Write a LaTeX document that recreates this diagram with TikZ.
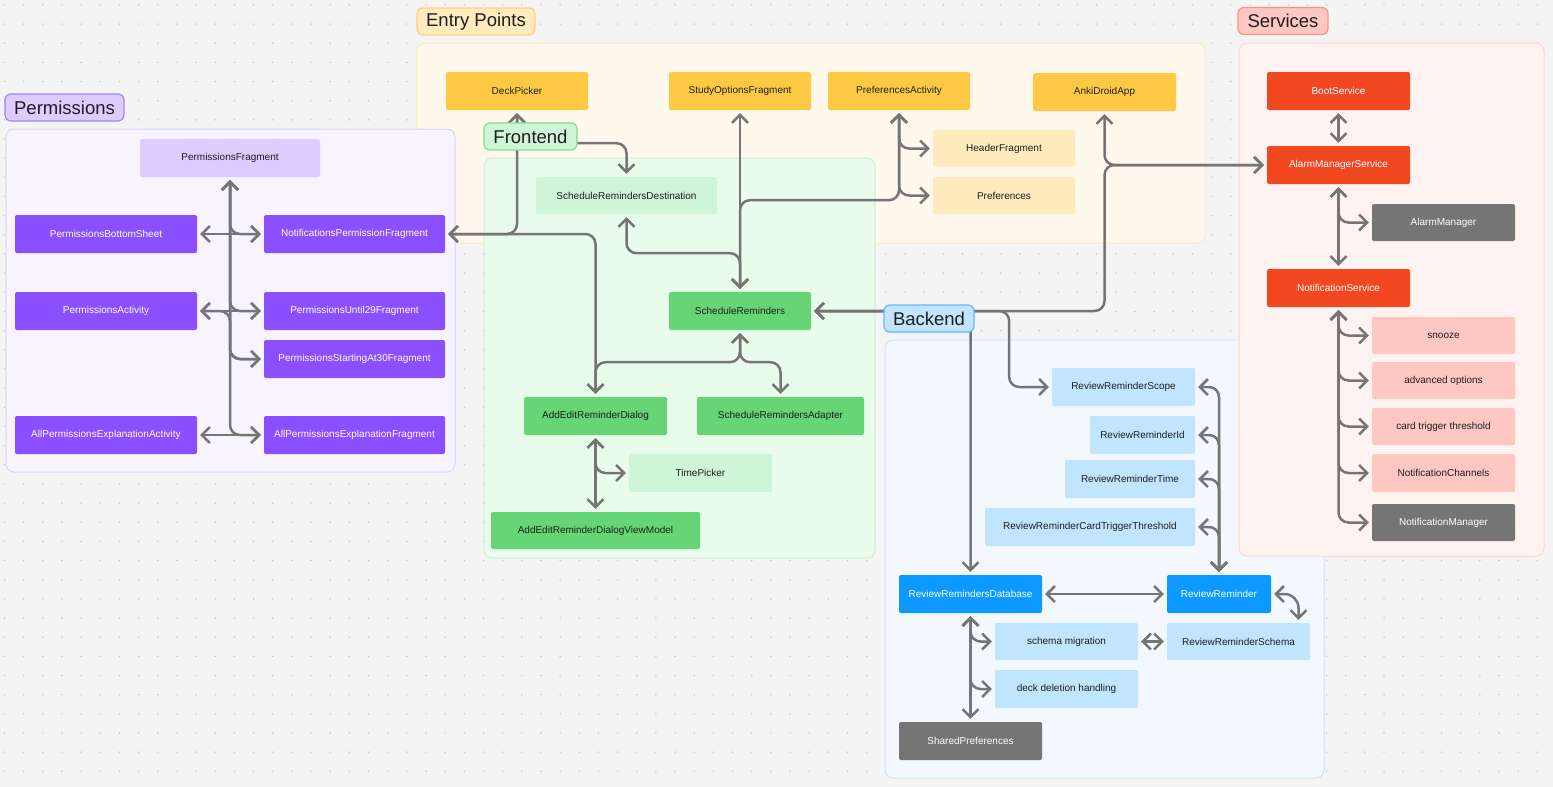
\documentclass[tikz,border=0pt]{standalone}
\usepackage{fontspec}
\setmainfont{Liberation Sans}
\usetikzlibrary{arrows.meta}
\definecolor{bg}{HTML}{F4F4F4}
\definecolor{dotc}{HTML}{C6C6C6}
\definecolor{linkc}{HTML}{757575}
\definecolor{ink}{HTML}{1E1E1E}
\definecolor{purpleA}{HTML}{8A4FFF}\definecolor{purpleB}{HTML}{DCCCFF}
\definecolor{purpleF}{HTML}{F7F4FF}\definecolor{purpleE}{HTML}{DDD0FF}\definecolor{purpleL}{HTML}{A283FF}
\definecolor{yellowA}{HTML}{FFC943}\definecolor{yellowB}{HTML}{FFEBBD}
\definecolor{yellowF}{HTML}{FFF9ED}\definecolor{yellowE}{HTML}{FFEAB5}\definecolor{yellowL}{HTML}{FFD27A}
\definecolor{greenA}{HTML}{66D575}\definecolor{greenB}{HTML}{CFF5D8}
\definecolor{greenF}{HTML}{E9FCEC}\definecolor{greenE}{HTML}{CBF0D2}\definecolor{greenL}{HTML}{82DB93}
\definecolor{blueA}{HTML}{0D99FF}\definecolor{blueB}{HTML}{C2E5FF}
\definecolor{blueF}{HTML}{F3F8FF}\definecolor{blueE}{HTML}{C8E4FF}\definecolor{blueL}{HTML}{62B7FF}
\definecolor{redA}{HTML}{F24822}\definecolor{redB}{HTML}{FFC7C2}
\definecolor{redF}{HTML}{FFF3F1}\definecolor{redE}{HTML}{FFD4D0}\definecolor{redL}{HTML}{FF8F85}
\definecolor{grayA}{HTML}{757575}
\tikzset{
  box/.style={rounded corners=2pt,minimum height=38pt,minimum width=142pt,inner sep=0pt,
    font=\fontsize{10}{12}\selectfont,text=ink},
  dark/.style={box,fill=#1,text=white},
  light/.style={box,fill=#1},
  tag/.style={rounded corners=6pt,line width=1.2pt,minimum height=27pt,inner sep=4pt,
    font=\fontsize{18.5}{20}\selectfont,text=ink},
  frame/.style={rounded corners=8pt,line width=1pt},
  link/.style={draw=linkc,line width=2.5pt,rounded corners=10pt,<->,shorten <=3pt,shorten >=3pt},
  >={Straight Barb[length=8pt,width=16pt]}
}
\begin{document}
\begin{tikzpicture}[x=1pt,y=-1pt]
\useasboundingbox(0,0)rectangle(1553,787);
\fill[bg](0,0)rectangle(1553,787);
\foreach \i in {0,...,81}\foreach \j in {0,...,41}
  \fill[dotc](4.5+19.16*\i,4.9+19.16*\j)circle(.8pt);
% groups
\draw[frame,fill=yellowF,draw=yellowE](417,43)rectangle(1205,243);
\draw[frame,fill=greenF,draw=greenE](484,158)rectangle(875,558);
\draw[frame,fill=purpleF,draw=purpleE](6,129)rectangle(455,472);
\draw[frame,fill=blueF,draw=blueE](885,340)rectangle(1324,778);
\draw[frame,fill=redF,draw=redE](1239,43)rectangle(1544,556);
% permissions
\node[light=purpleB,minimum width=180pt](pfrag)at(230,158){PermissionsFragment};
\node[dark=purpleA,minimum width=182pt](pbottom)at(106,234){PermissionsBottomSheet};
\node[dark=purpleA,minimum width=181pt](notifperm)at(354.5,234){NotificationsPermissionFragment};
\node[dark=purpleA,minimum width=182pt](pact)at(106,311){PermissionsActivity};
\node[dark=purpleA,minimum width=181pt](puntil)at(354.5,311){PermissionsUntil29Fragment};
\node[dark=purpleA,minimum width=181pt](pstart)at(354.5,359){PermissionsStartingAt30Fragment};
\node[dark=purpleA,minimum width=182pt](allact)at(106,435){AllPermissionsExplanationActivity};
\node[dark=purpleA,minimum width=181pt](allfrag)at(354.5,435){AllPermissionsExplanationFragment};
% entry points
\node[light=yellowA](deck)at(517,91){DeckPicker};
\node[light=yellowA](study)at(740,91){StudyOptionsFragment};
\node[light=yellowA](prefact)at(899,91){PreferencesActivity};
\node[light=yellowA,minimum width=143pt](anki)at(1104.5,92){AnkiDroidApp};
\node[light=yellowB,minimum height=37pt](header)at(1004,148.5){HeaderFragment};
\node[light=yellowB,minimum height=37pt](prefs)at(1004,195.5){Preferences};
% frontend
\node[light=greenB,minimum width=181pt,minimum height=37pt](srdest)at(626.5,195.5){ScheduleRemindersDestination};
\node[light=greenA](sr)at(740,311){ScheduleReminders};
\node[light=greenA,minimum width=143pt](aerd)at(595.5,416){AddEditReminderDialog};
\node[light=greenA,minimum width=167pt](sradapt)at(780.5,416){ScheduleRemindersAdapter};
\node[light=greenB,minimum width=143pt](timep)at(700.5,473){TimePicker};
\node[light=greenA,minimum width=209pt,minimum height=37pt](aerdvm)at(595.5,530.5){AddEditReminderDialogViewModel};
% services
\node[dark=redA,minimum width=143pt](boot)at(1338.5,91){BootService};
\node[dark=redA,minimum width=143pt](ams)at(1338.5,165){AlarmManagerService};
\node[dark=grayA,minimum width=143pt,minimum height=37pt](am)at(1443.5,222.5){AlarmManager};
\node[dark=redA,minimum width=143pt](ns)at(1338.5,288){NotificationService};
\node[light=redB,minimum width=143pt,minimum height=37pt](snooze)at(1443.5,335.5){snooze};
\node[light=redB,minimum width=143pt,minimum height=37pt](adv)at(1443.5,380.5){advanced options};
\node[light=redB,minimum width=143pt,minimum height=37pt](ctt)at(1443.5,426.5){card trigger threshold};
\node[light=redB,minimum width=143pt](nch)at(1443.5,473){NotificationChannels};
\node[dark=grayA,minimum width=143pt,minimum height=37pt](nmgr)at(1443.5,522.5){NotificationManager};
% backend
\node[light=blueB,minimum width=143pt](rrscope)at(1123.5,387){ReviewReminderScope};
\node[light=blueB,minimum width=105pt](rrid)at(1142.5,435){ReviewReminderId};
\node[light=blueB,minimum width=130pt](rrtime)at(1130,479){ReviewReminderTime};
\node[light=blueB,minimum width=210pt](rrctt)at(1090,527){ReviewReminderCardTriggerThreshold};
\node[dark=blueA,minimum width=143pt](rrdb)at(970.5,594){ReviewRemindersDatabase};
\node[dark=blueA,minimum width=104pt](rr)at(1219,594){ReviewReminder};
\node[light=blueB,minimum width=143pt,minimum height=37pt](schmig)at(1066.5,641.5){schema migration};
\node[light=blueB,minimum width=143pt,minimum height=37pt](rrschema)at(1238.5,641.5){ReviewReminderSchema};
\node[light=blueB,minimum width=143pt](deckdel)at(1066.5,689){deck deletion handling};
\node[dark=grayA,minimum width=143pt](sharedp)at(970.5,741){SharedPreferences};
% links
\draw[link](pfrag.south)|-(notifperm.west);
\draw[link](pfrag.south)|-(puntil.west);
\draw[link](pfrag.south)|-(pstart.west);
\draw[link](pfrag.south)|-(allfrag.west);
\draw[link](pbottom.east)--(notifperm.west);
\draw[link](pact.east)--(puntil.west);
\draw[link](pact.east)--(pact.east-|pfrag.south)|-(pstart.west);
\draw[link](allact.east)--(allfrag.west);
\draw[link](deck.south)|-(notifperm.east);
\draw[link](deck.south)--++(0,33)-|(srdest.north);
\draw[link](notifperm.east)-|(aerd.north);
\draw[link](study.south)--(sr.north);
\draw[link](prefact.south)--++(0,90)-|(sr.north);
\draw[link](prefact.south)|-(header.west);
\draw[link](prefact.south)|-(prefs.west);
\draw[link](srdest.south)--++(0,39)-|(sr.north);
\draw[link](sr.south)--++(0,32)-|(aerd.north);
\draw[link](sr.south)--++(0,32)-|(sradapt.north);
\draw[link](aerd.south)--(aerdvm.north);
\draw[link](aerd.south)|-(timep.west);
\draw[link](sr.east)--(sr.east-|anki.south)|-(ams.west);
\draw[link](anki.south)|-(ams.west);
\draw[link](sr.east)-|(rrdb.north);
\draw[link](sr.east)--++(198,0)|-(rrscope.west);
\draw[link](rr.north)|-(rrscope.east);
\draw[link](rr.north)|-(rrid.east);
\draw[link](rr.north)|-(rrtime.east);
\draw[link](rr.north)|-(rrctt.east);
\draw[link](rrdb.east)--(rr.west);
\draw[link,rounded corners=14pt](rr.east)-|([xshift=60pt]rrschema.north);
\draw[link](schmig.east)--(rrschema.west);
\draw[link](rrdb.south)--(sharedp.north);
\draw[link](rrdb.south)|-(schmig.west);
\draw[link](rrdb.south)|-(deckdel.west);
\draw[link](boot.south)--(ams.north);
\draw[link](ams.south)--(ns.north);
\draw[link](ams.south)|-(am.west);
\foreach \t in {snooze,adv,ctt,nch,nmgr}\draw[link](ns.south)|-(\t.west);
% group tags
\node[tag,fill=purpleB,draw=purpleL,minimum width=119pt](tperm)at(64.5,107.5){Permissions};
\node[tag,fill=yellowB,draw=yellowL,minimum width=118pt](tentry)at(476,21.5){Entry Points};
\node[tag,fill=greenB,draw=greenL,minimum width=93pt](tfront)at(530.5,136.5){Frontend};
\node[tag,fill=blueB,draw=blueL,minimum width=90pt](tback)at(929,318.5){Backend};
\node[tag,fill=redB,draw=redL,minimum width=90pt](tserv)at(1283,21){Services};
\end{tikzpicture}
\end{document}
